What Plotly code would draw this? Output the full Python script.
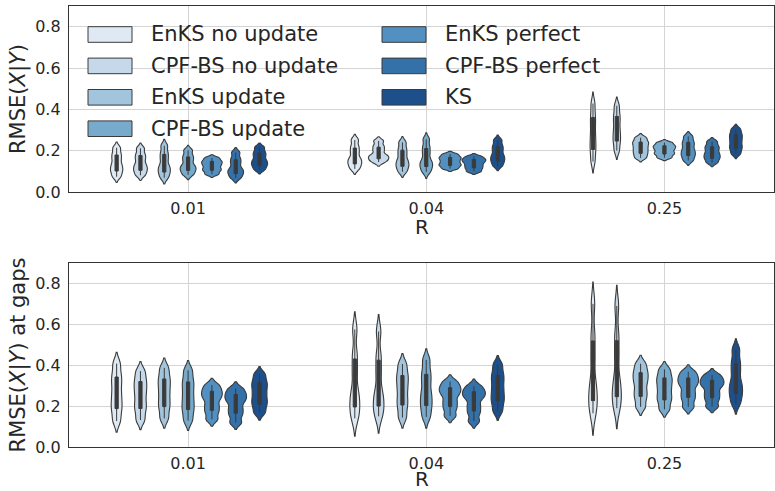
import numpy as np
import plotly.graph_objects as go

# ---------------- data ----------------
R_LABELS = ["0.01", "0.04", "0.25"]
SERIES = ["EnKS no update", "CPF-BS no update", "EnKS update", "CPF-BS update",
          "EnKS perfect", "CPF-BS perfect", "KS"]
COLORS = ["#dfe9f3", "#c6d9ea", "#a2c5dd", "#77aacb", "#5290c1", "#3471a8", "#1d4f8b"]

# Per R value, quantiles (2, 10, 25, 50, 75, 90, 98 %)
# Top panel: RMSE(X|Y)
top_enks_no_update = [[.074, .097, .115, .135, .161, .185, .214],
                      [.112, .132, .148, .165, .193, .219, .252],
                      [.147, .196, .235, .278, .327, .372, .428]]
top_cpf_no_update = [[.081, .101, .117, .135, .160, .182, .211],
                     [.145, .158, .169, .180, .202, .222, .247],
                     [.200, .239, .269, .302, .340, .374, .417]]
top_enks_update = [[.069, .092, .110, .130, .161, .189, .224],
                   [.098, .120, .137, .156, .183, .209, .240],
                   [.165, .183, .199, .215, .231, .245, .263]]
top_cpf_update = [[.083, .101, .115, .130, .154, .175, .202],
                  [.097, .119, .136, .155, .188, .218, .255],
                  [.166, .181, .192, .205, .216, .226, .239]]
top_enks_perfect = [[.086, .102, .114, .128, .140, .151, .165],
                    [.113, .126, .136, .148, .160, .170, .183],
                    [.152, .172, .188, .205, .226, .245, .269]]
top_cpf_perfect = [[.068, .086, .100, .115, .140, .162, .191],
                   [.099, .114, .127, .140, .151, .160, .172],
                   [.142, .160, .174, .189, .207, .223, .244]]
top_ks = [[.108, .126, .140, .155, .175, .193, .216],
          [.127, .147, .163, .180, .203, .224, .251],
          [.185, .207, .225, .245, .264, .282, .304]]

# Bottom panel: RMSE(X|Y) at gaps
gap_enks_no_update = [[.127, .178, .218, .262, .310, .353, .408],
                      [.140, .185, .228, .275, .367, .452, .575],
                      [.165, .215, .262, .319, .437, .546, .700]]
gap_cpf_no_update = [[.132, .179, .216, .257, .294, .329, .371],
                     [.150, .190, .230, .275, .364, .445, .565],
                     [.190, .235, .280, .335, .445, .545, .690]]
gap_enks_update = [[.140, .188, .226, .267, .306, .342, .387],
                   [.144, .195, .236, .281, .322, .359, .406],
                   [.196, .239, .273, .311, .342, .371, .407]]
gap_cpf_update = [[.129, .174, .210, .249, .290, .328, .375],
                  [.147, .193, .230, .270, .321, .367, .426],
                  [.184, .223, .253, .286, .317, .345, .380]]
gap_enks_perfect = [[.135, .172, .202, .235, .257, .278, .303],
                    [.152, .190, .221, .254, .276, .295, .320],
                    [.196, .235, .266, .300, .322, .343, .368]]
gap_cpf_perfect = [[.119, .158, .188, .221, .242, .262, .286],
                   [.126, .168, .201, .237, .257, .275, .298],
                   [.198, .234, .263, .294, .313, .331, .353]]
gap_ks = [[.168, .203, .231, .262, .293, .321, .356],
          [.175, .217, .250, .286, .324, .359, .403],
          [.213, .253, .285, .320, .371, .418, .477]]

TOP = [top_enks_no_update, top_cpf_no_update, top_enks_update, top_cpf_update,
       top_enks_perfect, top_cpf_perfect, top_ks]
BOTTOM = [gap_enks_no_update, gap_cpf_no_update, gap_enks_update, gap_cpf_update,
          gap_enks_perfect, gap_cpf_perfect, gap_ks]

# ---------------- style ----------------
FONT = "DejaVu Sans"
TXT = "#262626"
EDGE = "#3a3a3a"
GRID = "#d4d4d4"
SLOT = 0.1          # spacing between hue violins (data units along x)
PX_PER_UNIT = 238.0
BOX_PX = 3.2

W, H = 775, 491
ML, MR, MT, MB = 69, 1, 6, 44
PW, PH = W - ML - MR, H - MT - MB


def px2paper(x, y):
    return (x - ML) / PW, (H - MB - y) / PH


def bandwidth(s):
    return 0.3 * float(np.std(s))


def kde_peak(s, bw):
    s = np.asarray(s, float)
    g = np.linspace(s.min() - 2 * bw, s.max() + 2 * bw, 600)
    d = np.exp(-0.5 * ((g[:, None] - s[None, :]) / bw) ** 2).sum(1)
    return d.max() / (len(s) * bw * np.sqrt(2 * np.pi))


fig = go.Figure()


def add_panel(panel, xa, ya):
    peaks = [[kde_peak(v, bandwidth(v)) for v in series] for series in panel]
    gmax = max(max(p) for p in peaks)
    for j, series in enumerate(panel):
        for k, vals in enumerate(series):
            w = SLOT * peaks[j][k] / gmax
            bw = bandwidth(vals)
            fig.add_trace(go.Violin(
                x=[k + (j - 3) * SLOT] * len(vals), y=vals,
                xaxis=xa, yaxis=ya, name=SERIES[j], showlegend=False,
                width=w, scalemode="width", bandwidth=bw, spanmode="soft",
                points=False, fillcolor=COLORS[j],
                line=dict(color=EDGE, width=1.1),
                box=dict(visible=True, width=min(0.9, BOX_PX / (w * PX_PER_UNIT)),
                         fillcolor=EDGE, line=dict(color=EDGE, width=1.0)),
                meanline=dict(visible=False), hoverinfo="skip",
            ))


add_panel(TOP, "x", "y")
add_panel(BOTTOM, "x2", "y2")

axis_common = dict(showline=True, mirror=True, linecolor="#333333", linewidth=1.3,
                   showgrid=True, gridcolor=GRID, gridwidth=1, zeroline=False,
                   tickfont=dict(family=FONT, size=16, color=TXT))
xcommon = dict(axis_common, range=[-0.5, 2.46], tickmode="array", tickvals=[0, 1, 2],
               ticktext=R_LABELS, ticks="outside", ticklen=2, tickcolor="rgba(0,0,0,0)",
               automargin=False)
ycommon = dict(axis_common, range=[0, 0.9], tickmode="array",
               tickvals=[0, 0.2, 0.4, 0.6, 0.8], ticktext=["0.0", "0.2", "0.4", "0.6", "0.8"],
               ticks="outside", ticklen=4, tickcolor="rgba(0,0,0,0)", automargin=False)

fig.update_layout(
    width=W, height=H, margin=dict(l=ML, r=MR, t=MT, b=MB),
    paper_bgcolor="white", plot_bgcolor="white",
    font=dict(family=FONT, color=TXT),
    violinmode="overlay",
    xaxis=dict(xcommon, domain=[0, 1], anchor="y"),
    yaxis=dict(ycommon, domain=[(H - MB - 192) / PH, 1.0], anchor="x",
               title=dict(text="RMSE(<i>X</i>|<i>Y</i>)",
                          font=dict(family=FONT, size=21, color=TXT), standoff=3)),
    xaxis2=dict(xcommon, domain=[0, 1], anchor="y2"),
    yaxis2=dict(ycommon, domain=[0, (H - MB - 263) / PH], anchor="x2",
                title=dict(text="RMSE(<i>X</i>|<i>Y</i>) at gaps",
                           font=dict(family=FONT, size=21, color=TXT), standoff=3)),
)

# legend (two columns, upper left of top panel, no frame)
shapes, annots = [], []
for i, name in enumerate(SERIES):
    col, row = i // 4, i % 4
    x0 = [88, 382][col]
    yc = 34.5 + 31.4 * row
    px0, py0 = px2paper(x0, yc - 7.8)
    px1, py1 = px2paper(x0 + 44, yc + 7.8)
    shapes.append(dict(type="rect", xref="paper", yref="paper", x0=px0, x1=px1,
                       y0=py1, y1=py0, fillcolor=COLORS[i],
                       line=dict(color=EDGE, width=1)))
    tx, ty = px2paper(x0 + 61, yc)
    annots.append(dict(xref="paper", yref="paper", x=tx, y=ty, xanchor="left",
                       yanchor="middle", showarrow=False, text=name,
                       font=dict(family=FONT, size=21, color=TXT)))

# x-axis titles "R"
for ypx in (227, 479):
    _, ty = px2paper(0, ypx)
    annots.append(dict(xref="paper", yref="paper", x=(421.5 - ML) / PW, y=ty,
                       xanchor="center", yanchor="middle", showarrow=False, text="R",
                       borderpad=0, font=dict(family=FONT, size=20, color=TXT)))
fig.update_layout(shapes=shapes, annotations=annots)

fig.write_html("out.html", config=dict(displayModeBar=False),
               post_script="document.body.style.margin='0px';")
